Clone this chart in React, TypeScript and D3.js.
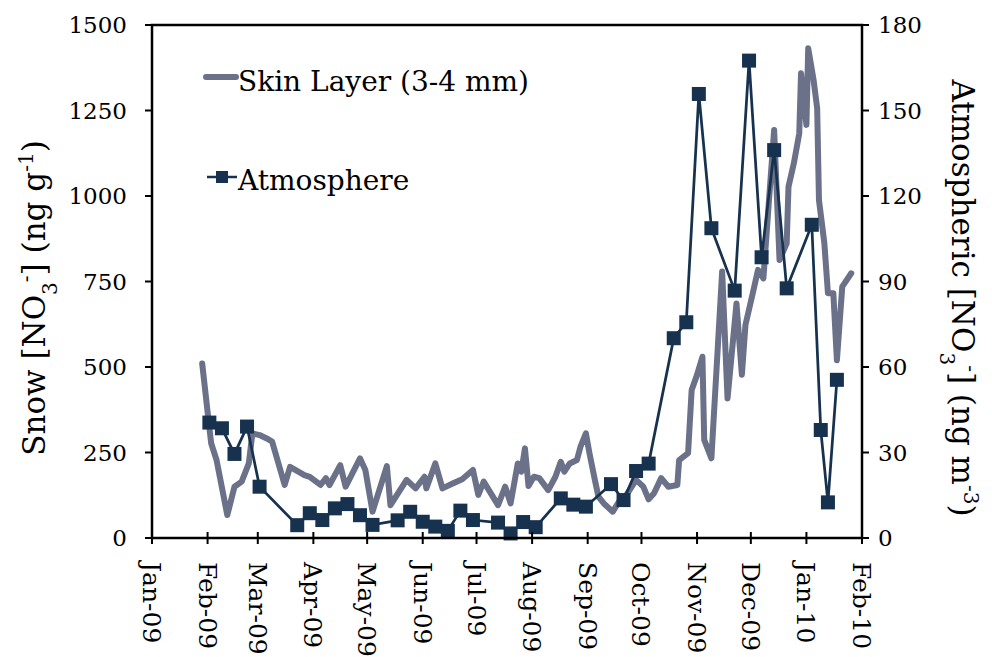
import * as d3 from "d3";

// Atmospheric nitrate (ng m-3), weekly samples
const atmDates = [
  "2009-02-02", "2009-02-09", "2009-02-16", "2009-02-23", "2009-03-02", "2009-03-23", "2009-03-30",
  "2009-04-06", "2009-04-13", "2009-04-20", "2009-04-27", "2009-05-04", "2009-05-18", "2009-05-25",
  "2009-06-01", "2009-06-08", "2009-06-15", "2009-06-22", "2009-06-29", "2009-07-13", "2009-07-20",
  "2009-07-27", "2009-08-03", "2009-08-17", "2009-08-24", "2009-08-31", "2009-09-14", "2009-09-21",
  "2009-09-28", "2009-10-05", "2009-10-19", "2009-10-26", "2009-11-02", "2009-11-09", "2009-11-22",
  "2009-11-30", "2009-12-07", "2009-12-14", "2009-12-21", "2010-01-04", "2010-01-09", "2010-01-13",
  "2010-01-18",
];
const atmValues = [
  40.5, 38.5, 29.5, 39.1, 18.0, 4.5, 8.7,
  6.3, 10.4, 11.9, 8.0, 4.6, 6.2, 9.2,
  5.7, 4.0, 2.5, 9.6, 6.3, 5.4, 1.6,
  5.6, 3.8, 13.9, 11.7, 11.0, 18.9, 13.3,
  23.5, 26.1, 70.1, 75.7, 155.8, 108.7, 86.8,
  167.5, 98.5, 136.1, 87.6, 109.9, 37.9, 12.5,
  55.5,
];

// Skin layer snow nitrate (ng g-1)
const skinDates = [
  "2009-01-29", "2009-02-01", "2009-02-03", "2009-02-06", "2009-02-12", "2009-02-16", "2009-02-20",
  "2009-02-24", "2009-02-26", "2009-03-02", "2009-03-06", "2009-03-09", "2009-03-16", "2009-03-19",
  "2009-03-27", "2009-03-30", "2009-04-05", "2009-04-08", "2009-04-10", "2009-04-16", "2009-04-19",
  "2009-04-27", "2009-04-30", "2009-05-04", "2009-05-12", "2009-05-14", "2009-05-23", "2009-05-28",
  "2009-06-02", "2009-06-03", "2009-06-08", "2009-06-12", "2009-06-18", "2009-06-23", "2009-06-29",
  "2009-07-02", "2009-07-05", "2009-07-13", "2009-07-17", "2009-07-20", "2009-07-24", "2009-07-26",
  "2009-07-28", "2009-07-30", "2009-08-02", "2009-08-05", "2009-08-10", "2009-08-14", "2009-08-17",
  "2009-08-19", "2009-08-22", "2009-08-26", "2009-08-28", "2009-08-31", "2009-09-02", "2009-09-05",
  "2009-09-07", "2009-09-10", "2009-09-15", "2009-09-19", "2009-09-22", "2009-09-28", "2009-10-02",
  "2009-10-05", "2009-10-08", "2009-10-12", "2009-10-16", "2009-10-21", "2009-10-22", "2009-10-27",
  "2009-10-29", "2009-11-01", "2009-11-04", "2009-11-05", "2009-11-09", "2009-11-15", "2009-11-18",
  "2009-11-23", "2009-11-26", "2009-11-28", "2009-12-02", "2009-12-05", "2009-12-08", "2009-12-11",
  "2009-12-14", "2009-12-17", "2009-12-21", "2009-12-22", "2009-12-25", "2009-12-28", "2009-12-29",
  "2010-01-01", "2010-01-02", "2010-01-05", "2010-01-07", "2010-01-08", "2010-01-11", "2010-01-13",
  "2010-01-16", "2010-01-18", "2010-01-21", "2010-01-26",
];
const skinValues = [
  510, 369, 277, 228, 67, 150, 165,
  218, 306, 301, 291, 282, 155, 208,
  184, 179, 155, 175, 155, 213, 150,
  233, 199, 77, 210, 96, 170, 145,
  179, 145, 218, 145, 160, 172, 199,
  126, 165, 96, 150, 101, 218, 194,
  262, 152, 179, 175, 140, 179, 223,
  194, 218, 228, 267, 306, 248, 170,
  121, 101, 77, 111, 121, 170, 150,
  113, 131, 175, 150, 155, 228, 248,
  433, 477, 530, 287, 233, 779, 408,
  686, 477, 623, 714, 784, 759, 979,
  1193, 813, 862, 1027, 1096, 1183, 1359,
  1208, 1432, 1339, 1256, 988, 862, 716,
  716, 520, 735, 774,
];

const leftTicks = [0, 250, 500, 750, 1000, 1250, 1500];
const rightTicks = [0, 30, 60, 90, 120, 150, 180];
const monthFmt = d3.timeFormat("%b-%y");

const W = 992;
const H = 657;
const left = 152;
const right = 862;
const top = 25;
const bottom = 538;

const FONT = "'DejaVu Serif', serif";
const GRAY = "#6a7189";
const NAVY = "#17324f";

const parse = d3.timeParse("%Y-%m-%d");

export default function App() {
  const x = d3.scaleTime()
    .domain([new Date(2009, 0, 1), new Date(2010, 1, 1)])
    .range([left, right]);
  const yL = d3.scaleLinear().domain([0, 1500]).range([bottom, top]);
  const yR = d3.scaleLinear().domain([0, 180]).range([bottom, top]);

  const months = x.ticks(d3.timeMonth.every(1));

  const skin = skinDates.map((d, i) => ({ date: parse(d)!, v: skinValues[i] }));
  const atm = atmDates.map((d, i) => ({ date: parse(d)!, v: atmValues[i] }));

  const skinLine = d3.line<{ date: Date; v: number }>()
    .x(d => x(d.date))
    .y(d => yL(d.v));
  const atmLine = d3.line<{ date: Date; v: number }>()
    .x(d => x(d.date))
    .y(d => yR(d.v));

  const ms = 14; // marker size

  return (
    <svg width={W} height={H} style={{ position: "absolute", left: 0, top: 0, background: "#fff" }}
         fontFamily={FONT}>
      {/* series */}
      <path d={skinLine(skin)!} fill="none" stroke={GRAY} strokeWidth={6}
            strokeLinejoin="round" strokeLinecap="round"/>
      <path d={atmLine(atm)!} fill="none" stroke={NAVY} strokeWidth={2.75}/>
      {atm.map((d, i) => (
        <rect key={i} x={x(d.date) - ms / 2} y={yR(d.v) - ms / 2} width={ms} height={ms} fill={NAVY}/>
      ))}

      {/* frame */}
      <rect x={left} y={top} width={right - left} height={bottom - top} fill="none" stroke="#000" strokeWidth={2.5}/>

      {/* left axis */}
      {leftTicks.map(t => (
        <g key={t}>
          <line x1={left - 7} x2={left} y1={yL(t)} y2={yL(t)} stroke="#000" strokeWidth={2}/>
          <text x={127} y={yL(t)} dy="0.36em" textAnchor="end" fontSize={23}>{t}</text>
        </g>
      ))}

      {/* right axis */}
      {rightTicks.map(t => (
        <g key={t}>
          <line x1={right} x2={right + 7} y1={yR(t)} y2={yR(t)} stroke="#000" strokeWidth={2}/>
          <text x={878} y={yR(t)} dy="0.36em" textAnchor="start" fontSize={23}>{t}</text>
        </g>
      ))}

      {/* bottom axis */}
      {months.map(m => (
        <g key={m.getTime()}>
          <line x1={x(m)} x2={x(m)} y1={bottom - 6} y2={bottom + 6} stroke="#000" strokeWidth={2}/>
          <text transform={`translate(${x(m)},${562}) rotate(90)`} dy="0.36em" fontSize={25}>
            {monthFmt(m)}
          </text>
        </g>
      ))}

      {/* axis titles */}
      <text transform={`translate(45,${298}) rotate(-90)`} textAnchor="middle" fontSize={31}>
        Snow [NO<tspan baselineShift="sub" fontSize={20}>3</tspan>
        <tspan baselineShift="super" fontSize={20}>-</tspan>] (ng g<tspan baselineShift="super" fontSize={20}>-1</tspan>)
      </text>
      <text transform={`translate(952,${298}) rotate(90)`} textAnchor="middle" fontSize={31}>
        Atmospheric [NO<tspan baselineShift="sub" fontSize={20}>3</tspan>
        <tspan baselineShift="super" fontSize={20}>-</tspan>] (ng m<tspan baselineShift="super" fontSize={20}>-3</tspan>)
      </text>

      {/* legend */}
      <line x1={206} x2={236} y1={77} y2={77} stroke={GRAY} strokeWidth={6} strokeLinecap="round"/>
      <text x={238} y={91} fontSize={28}>Skin Layer (3-4 mm)</text>
      <line x1={207} x2={237} y1={177} y2={177} stroke={NAVY} strokeWidth={2.5}/>
      <rect x={216} y={171} width={12} height={12} fill={NAVY}/>
      <text x={238} y={190} fontSize={28}>Atmosphere</text>
    </svg>
  );
}
